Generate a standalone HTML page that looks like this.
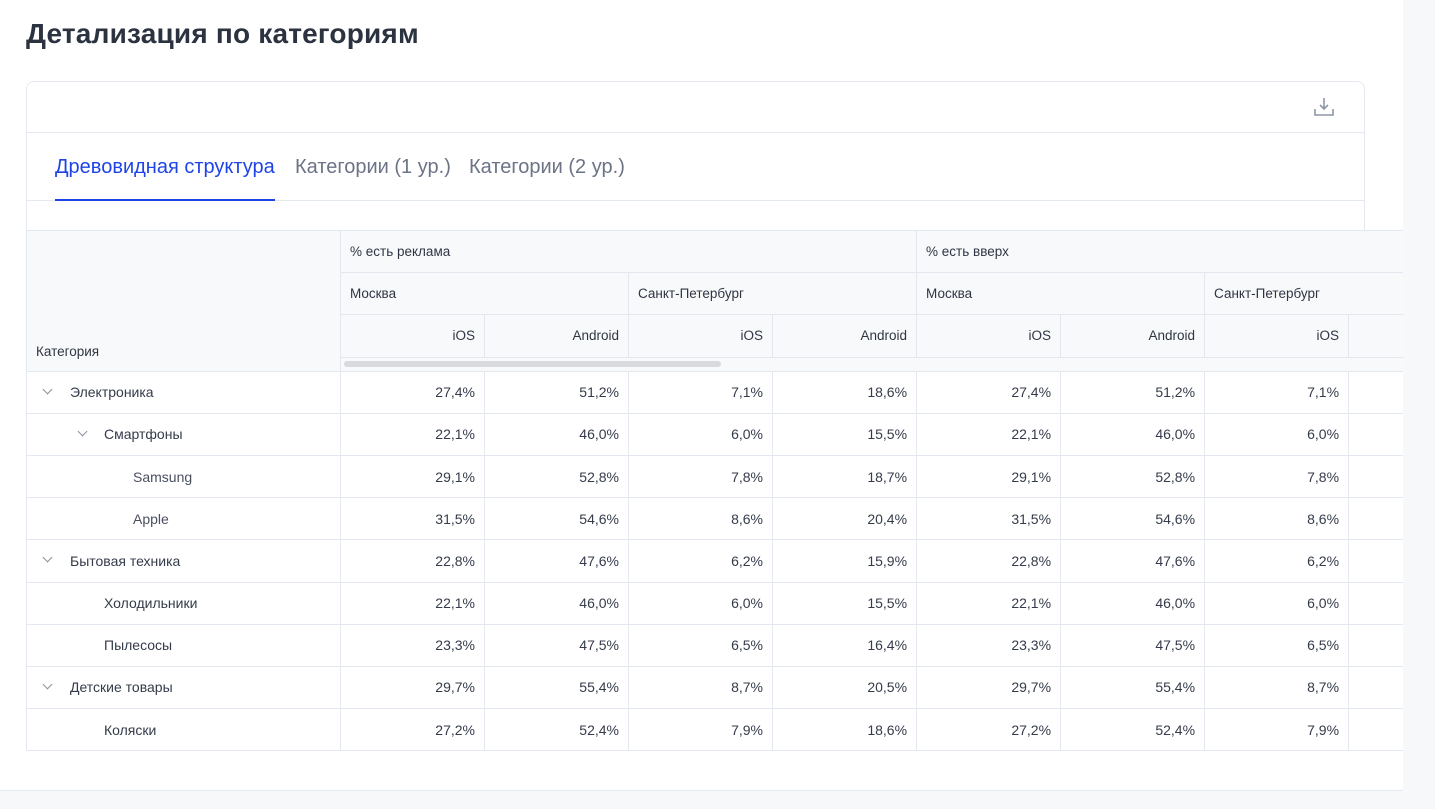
<!DOCTYPE html>
<html><head><meta charset="utf-8"><style>
*{box-sizing:border-box;margin:0;padding:0}
body{width:1435px;height:809px;background:#fff;font-family:"Liberation Sans",sans-serif;color:#343b4a;position:relative;overflow:hidden}
.abs{position:absolute}
h1{position:absolute;left:26px;top:18px;font-size:28px;font-weight:bold;color:#2b3240;letter-spacing:0.2px}
.rstrip{left:1403px;top:0;width:32px;height:809px;background:#f7f8fa}
.bstrip{left:0;top:790px;width:1435px;height:19px;background:#f7f8fa;border-top:1px solid #e4e8ef}
.card{left:26px;top:81px;width:1339px;height:150px;border:1px solid #e4e8ef;border-bottom:none;border-radius:8px 8px 0 0}
.line{background:#e4e8ef;height:1px}
.tab{top:156px;font-size:20px;color:#6b7385}
table{position:absolute;left:26px;top:230px;border-collapse:collapse;table-layout:fixed;font-size:14px;width:1466px}
td{border:1px solid #e2e7f0;height:42.2px;padding:0 9px;white-space:nowrap;overflow:hidden}
.h td{background:#f8f9fa;font-size:13.5px;color:#2f3544}
td.n{text-align:right}
.cat{position:relative}
.chev{position:absolute;top:14px;width:7px;height:7px;border-right:1.3px solid #8a909c;border-bottom:1.3px solid #8a909c;transform:rotate(45deg)}
</style></head><body>
<div class="abs bstrip"></div>
<h1>Детализация по категориям</h1>
<div class="abs card"></div>
<div class="abs line" style="left:27px;top:132px;width:1337px"></div>
<div class="abs line" style="left:27px;top:200px;width:1337px"></div>
<svg class="abs" style="left:1313px;top:96px" width="22" height="22" viewBox="0 0 22 22"><path d="M11 2v11M7 9l4 4 4-4M2 13v6h18v-6" fill="none" stroke="#8f97a6" stroke-width="1.6"/></svg>
<div class="abs tab" style="left:55px;color:#1e44e8">Древовидная структура</div>
<div class="abs" style="left:55px;top:199px;width:220px;height:2px;background:#1e44e8"></div>
<div class="abs tab" style="left:295px">Категории (1 ур.)</div>
<div class="abs tab" style="left:469px">Категории (2 ур.)</div>
<table>
<colgroup><col style="width:314px"><col style="width:144px"><col style="width:144px"><col style="width:144px"><col style="width:144px"><col style="width:144px"><col style="width:144px"><col style="width:144px"><col style="width:144px"></colgroup>
<tr class="h"><td rowspan="4" style="vertical-align:bottom;padding-bottom:12px">Категория</td><td colspan="4">% есть реклама</td><td colspan="4">% есть вверх</td></tr>
<tr class="h"><td colspan="2">Москва</td><td colspan="2">Санкт-Петербург</td><td colspan="2">Москва</td><td colspan="2">Санкт-Петербург</td></tr>
<tr class="h"><td class="n">iOS</td><td class="n">Android</td><td class="n">iOS</td><td class="n">Android</td><td class="n">iOS</td><td class="n">Android</td><td class="n">iOS</td><td class="n"></td></tr>
<tr class="h"><td colspan="8" style="height:14px;padding:0;position:relative"><div style="position:absolute;left:3px;top:3px;width:377px;height:6px;border-radius:3px;background:#d8dade"></div></td></tr>
<tr><td class="cat"><span class="chev" style="left:17px"></span><span style="margin-left:34px">Электроника</span></td><td class="n">27,4%</td><td class="n">51,2%</td><td class="n">7,1%</td><td class="n">18,6%</td><td class="n">27,4%</td><td class="n">51,2%</td><td class="n">7,1%</td><td></td></tr>
<tr><td class="cat"><span class="chev" style="left:52px"></span><span style="margin-left:68px">Смартфоны</span></td><td class="n">22,1%</td><td class="n">46,0%</td><td class="n">6,0%</td><td class="n">15,5%</td><td class="n">22,1%</td><td class="n">46,0%</td><td class="n">6,0%</td><td></td></tr>
<tr><td><span style="margin-left:97px;color:#4a5060">Samsung</span></td><td class="n">29,1%</td><td class="n">52,8%</td><td class="n">7,8%</td><td class="n">18,7%</td><td class="n">29,1%</td><td class="n">52,8%</td><td class="n">7,8%</td><td></td></tr>
<tr><td><span style="margin-left:97px;color:#4a5060">Apple</span></td><td class="n">31,5%</td><td class="n">54,6%</td><td class="n">8,6%</td><td class="n">20,4%</td><td class="n">31,5%</td><td class="n">54,6%</td><td class="n">8,6%</td><td></td></tr>
<tr><td class="cat"><span class="chev" style="left:17px"></span><span style="margin-left:34px">Бытовая техника</span></td><td class="n">22,8%</td><td class="n">47,6%</td><td class="n">6,2%</td><td class="n">15,9%</td><td class="n">22,8%</td><td class="n">47,6%</td><td class="n">6,2%</td><td></td></tr>
<tr><td><span style="margin-left:68px">Холодильники</span></td><td class="n">22,1%</td><td class="n">46,0%</td><td class="n">6,0%</td><td class="n">15,5%</td><td class="n">22,1%</td><td class="n">46,0%</td><td class="n">6,0%</td><td></td></tr>
<tr><td><span style="margin-left:68px">Пылесосы</span></td><td class="n">23,3%</td><td class="n">47,5%</td><td class="n">6,5%</td><td class="n">16,4%</td><td class="n">23,3%</td><td class="n">47,5%</td><td class="n">6,5%</td><td></td></tr>
<tr><td class="cat"><span class="chev" style="left:17px"></span><span style="margin-left:34px">Детские товары</span></td><td class="n">29,7%</td><td class="n">55,4%</td><td class="n">8,7%</td><td class="n">20,5%</td><td class="n">29,7%</td><td class="n">55,4%</td><td class="n">8,7%</td><td></td></tr>
<tr><td><span style="margin-left:68px">Коляски</span></td><td class="n">27,2%</td><td class="n">52,4%</td><td class="n">7,9%</td><td class="n">18,6%</td><td class="n">27,2%</td><td class="n">52,4%</td><td class="n">7,9%</td><td></td></tr>
</table>
<div class="abs rstrip"></div>
</body></html>
